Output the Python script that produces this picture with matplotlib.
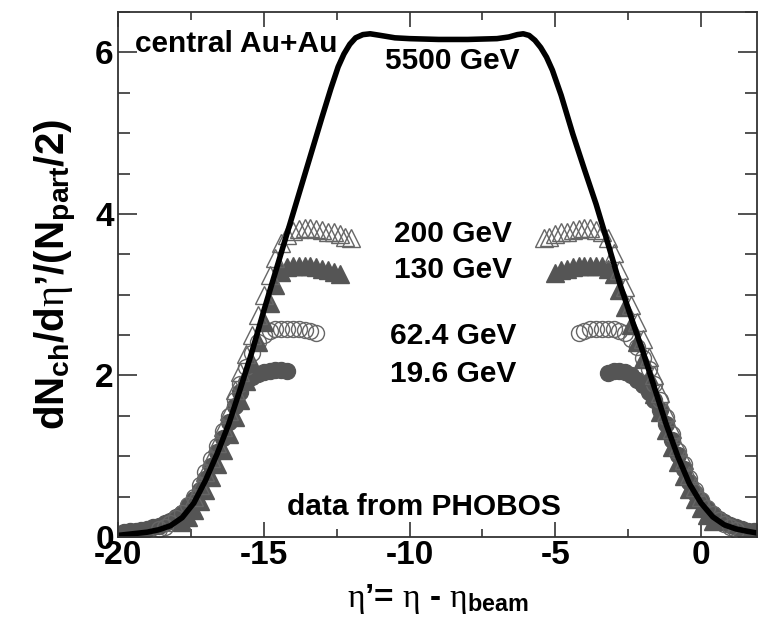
import matplotlib
matplotlib.use("Agg")
import matplotlib.pyplot as plt
from matplotlib.ticker import MultipleLocator

plt.rcParams['font.family'] = ['Liberation Sans', 'DejaVu Sans']
plt.rcParams['axes.unicode_minus'] = False
plt.rcParams['mathtext.fontset'] = 'custom'
plt.rcParams['mathtext.rm'] = 'Liberation Sans:bold'
plt.rcParams['mathtext.bf'] = 'Liberation Sans:bold'
plt.rcParams['mathtext.it'] = 'Liberation Serif'

# 5500 GeV extrapolation (solid black curve)
lhc_x = [-20.0, -19.5, -19.0, -18.6, -18.2, -17.8, -17.4, -17.0, -16.6, -16.2, -15.8,
         -15.4, -15.0, -14.6, -14.2, -13.8, -13.4, -13.0, -12.7, -12.45, -12.25, -12.05,
         -11.85, -11.6, -11.35, -11.0, -10.5, -10.0, -9.0, -8.0, -7.0, -6.6, -6.3, -6.1,
         -5.9, -5.7, -5.5, -5.3, -5.1, -4.8, -4.4, -4.0, -3.6, -3.2, -2.8, -2.4, -2.0,
         -1.6, -1.2, -0.8, -0.4, 0.0, 0.4, 0.8, 1.2, 1.6, 1.92]
lhc_y = [0.02, 0.04, 0.06, 0.09, 0.14, 0.24, 0.42, 0.70, 1.03, 1.40, 1.84,
         2.30, 2.80, 3.28, 3.76, 4.24, 4.72, 5.20, 5.55, 5.82, 5.98, 6.10,
         6.18, 6.22, 6.23, 6.21, 6.18, 6.17, 6.16, 6.16, 6.17, 6.19, 6.22, 6.23,
         6.21, 6.15, 6.06, 5.94, 5.78, 5.47, 4.99, 4.55, 4.12, 3.64, 3.15, 2.72, 2.30,
         1.85, 1.40, 1.00, 0.66, 0.42, 0.25, 0.15, 0.10, 0.07, 0.05]

# PHOBOS data, 200 GeV (open triangles)
x200 = [-17.4, -17.2, -17.0, -16.8, -16.6, -16.4, -16.2, -16.0, -15.8, -15.6, -15.4, -15.2,
        -15.0, -14.8, -14.6, -14.4, -14.2, -14.0, -13.8, -13.6, -13.4, -13.2, -13.0, -12.8,
        -12.6, -12.4, -12.2, -12.0,
        -5.4, -5.2, -5.0, -4.8, -4.6, -4.4, -4.2, -4.0, -3.8, -3.6, -3.4, -3.2,
        -3.0, -2.8, -2.6, -2.4, -2.2, -2.0, -1.8, -1.6, -1.4, -1.2, -1.0, -0.8,
        -0.6, -0.4, -0.2, 0.0]
y200 = [0.50, 0.64, 0.80, 0.98, 1.16, 1.36, 1.56, 1.82, 2.04, 2.27, 2.50, 2.75,
        3.00, 3.24, 3.46, 3.64, 3.74, 3.79, 3.81, 3.82, 3.82, 3.81, 3.80, 3.78,
        3.77, 3.75, 3.72, 3.70,
        3.70, 3.72, 3.75, 3.77, 3.78, 3.80, 3.81, 3.82, 3.82, 3.80, 3.78, 3.70,
        3.52, 3.30, 3.09, 2.87, 2.66, 2.45, 2.23, 2.00, 1.78, 1.55, 1.34, 1.13,
        0.95, 0.77, 0.62, 0.50]

# 130 GeV (filled triangles)
x130 = [-17.8, -17.6, -17.4, -17.2, -17.0, -16.8, -16.6, -16.4, -16.2, -16.0, -15.8, -15.6,
        -15.4, -15.2, -15.0, -14.8, -14.6, -14.4, -14.2, -14.0, -13.8, -13.6, -13.4, -13.2,
        -13.0, -12.8, -12.6, -12.4,
        -5.0, -4.8, -4.6, -4.4, -4.2, -4.0, -3.8, -3.6, -3.4, -3.2, -3.0, -2.8,
        -2.6, -2.4, -2.2, -2.0, -1.8, -1.6, -1.4, -1.2, -1.0, -0.8, -0.6, -0.4,
        -0.2, 0.0, 0.2, 0.4]
y130 = [0.18, 0.25, 0.33, 0.45, 0.58, 0.74, 0.90, 1.08, 1.27, 1.48, 1.70, 1.93,
        2.16, 2.41, 2.66, 2.90, 3.12, 3.28, 3.34, 3.36, 3.36, 3.36, 3.35, 3.34,
        3.32, 3.30, 3.28, 3.26,
        3.27, 3.30, 3.32, 3.34, 3.35, 3.36, 3.36, 3.36, 3.35, 3.32, 3.25, 3.06,
        2.85, 2.63, 2.42, 2.21, 1.99, 1.77, 1.55, 1.32, 1.12, 0.93, 0.76, 0.60,
        0.47, 0.36, 0.27, 0.20]

# 62.4 GeV (open circles)
x62 = [-18.6, -18.4, -18.2, -18.0, -17.8, -17.6, -17.4, -17.2, -17.0, -16.8, -16.6, -16.4,
       -16.2, -16.0, -15.8, -15.6, -15.4, -15.2, -15.0, -14.8, -14.6, -14.4, -14.2, -14.0,
       -13.8, -13.6, -13.4, -13.2,
       -4.2, -4.0, -3.8, -3.6, -3.4, -3.2, -3.0, -2.8, -2.6, -2.4, -2.2, -2.0,
       -1.8, -1.6, -1.4, -1.2, -1.0, -0.8, -0.6, -0.4, -0.2, 0.0, 0.2, 0.4,
       0.6, 0.8, 1.0, 1.2]
y62 = [0.10, 0.13, 0.17, 0.23, 0.30, 0.40, 0.50, 0.64, 0.80, 0.96, 1.13, 1.31,
       1.50, 1.70, 1.90, 2.10, 2.28, 2.42, 2.50, 2.55, 2.57, 2.58, 2.58, 2.58,
       2.57, 2.56, 2.55, 2.53,
       2.52, 2.55, 2.57, 2.58, 2.58, 2.58, 2.57, 2.55, 2.52, 2.45, 2.35, 2.22,
       2.08, 1.90, 1.70, 1.48, 1.27, 1.07, 0.90, 0.73, 0.58, 0.46, 0.36, 0.28,
       0.21, 0.16, 0.12, 0.09]

# 19.6 GeV (filled circles)
x19 = [-19.8, -19.6, -19.4, -19.2, -19.0, -18.8, -18.6, -18.4, -18.2, -18.0, -17.8, -17.6,
       -17.4, -17.2, -17.0, -16.8, -16.6, -16.4, -16.2, -16.0, -15.8, -15.6, -15.4, -15.2,
       -15.0, -14.8, -14.6, -14.4, -14.2,
       -3.2, -3.0, -2.8, -2.6, -2.4, -2.2, -2.0, -1.8, -1.6, -1.4, -1.2, -1.0,
       -0.8, -0.6, -0.4, -0.2, 0.0, 0.2, 0.4, 0.6, 0.8, 1.0, 1.2, 1.4, 1.6, 1.8]
y19 = [0.06, 0.07, 0.08, 0.09, 0.10, 0.12, 0.14, 0.17, 0.20, 0.25, 0.30, 0.38,
       0.47, 0.58, 0.72, 0.88, 1.05, 1.22, 1.42, 1.62, 1.80, 1.92, 1.98, 2.02,
       2.04, 2.06, 2.07, 2.07, 2.06,
       2.03, 2.06, 2.06, 2.04, 2.00, 1.95, 1.88, 1.80, 1.70, 1.57, 1.40, 1.20,
       1.01, 0.84, 0.68, 0.55, 0.44, 0.35, 0.28, 0.22, 0.18, 0.15, 0.12, 0.10, 0.08, 0.07]

gray = '#555555'
fig = plt.figure(figsize=(7.59, 6.24), dpi=100)
ax = fig.add_axes([0.1555, 0.1394, 0.8419, 0.8414])

ax.plot(x19, y19, 'o', ms=11.5, color=gray, mec=gray, ls='none')
ax.plot(x62, y62, 'o', ms=11.5, mfc='none', mec='#666666', mew=1.0, ls='none')
ax.plot(x130, y130, '^', ms=12.5, color=gray, mec=gray, ls='none')
ax.plot(x200, y200, '^', ms=12.5, mfc='none', mec='#666666', mew=1.0, ls='none')
ax.plot(lhc_x, lhc_y, '-', color='black', lw=4, solid_joinstyle='round', solid_capstyle='round')

ax.set_xlim(-20, 1.92)
ax.set_ylim(0, 6.5)
ax.xaxis.set_major_locator(MultipleLocator(5))
ax.xaxis.set_minor_locator(MultipleLocator(2.5))
ax.yaxis.set_major_locator(MultipleLocator(2))
ax.yaxis.set_minor_locator(MultipleLocator(0.5))
ax.tick_params(which='both', direction='in', top=True, right=True, color='#333333')
ax.tick_params(axis='x', which='major', length=11, width=1.2, labelsize=24, pad=2)
ax.tick_params(axis='x', which='minor', length=5.5, width=1.2)
ax.tick_params(axis='y', which='major', length=14, width=1.2, labelsize=24, pad=3)
ax.tick_params(axis='y', which='minor', length=8.5, width=1.2)
for lab in ax.get_xticklabels() + ax.get_yticklabels():
    lab.set_fontweight('bold')
for sp in ax.spines.values():
    sp.set_linewidth(1.3)
    sp.set_color('#333333')

tk = dict(fontsize=21.5, fontweight='bold')
ax.text(-19.42, 6.1, 'central Au+Au', ha='left', va='center', **tk)
ax.text(-8.53, 5.89, '5500 GeV', ha='center', va='center', **tk)
ax.text(-8.5, 3.75, '200 GeV', ha='center', va='center', **tk)
ax.text(-8.5, 3.30, '130 GeV', ha='center', va='center', **tk)
ax.text(-8.5, 2.49, '62.4 GeV', ha='center', va='center', **tk)
ax.text(-8.5, 2.02, '19.6 GeV', ha='center', va='center', **tk)
ax.text(-9.52, 0.37, 'data from PHOBOS', ha='center', va='center', **tk)

ax.set_ylabel("dN$_{\\mathrm{ch}}$/d$\\eta$\u2019/(N$_{\\mathrm{part}}$/2)",
              fontsize=29, fontweight='bold', labelpad=12)
ax.set_xlabel("$\\eta$\u2019= $\\eta$ - $\\eta_{\\mathrm{beam}}$",
              fontsize=24, fontweight='bold', labelpad=8)

fig.savefig('out.png', dpi=100)
